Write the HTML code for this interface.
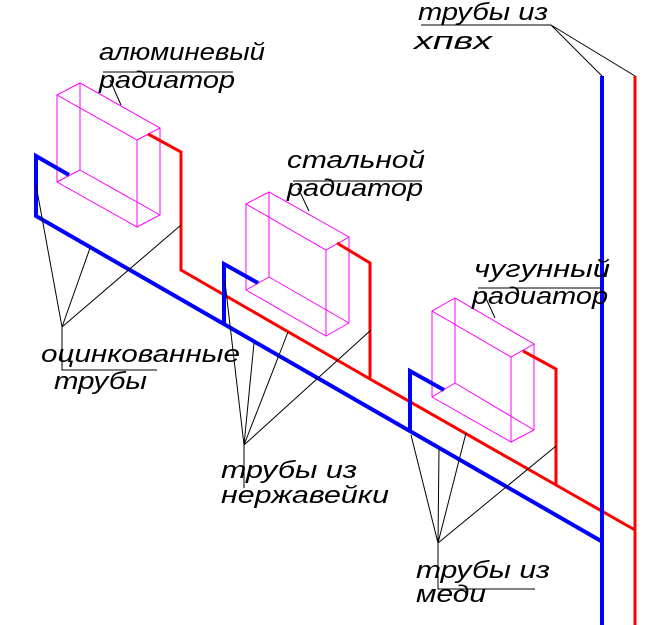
<!DOCTYPE html>
<html><head><meta charset="utf-8"><style>html,body{margin:0;padding:0;background:#fff}svg{display:block}
text{font-family:"Liberation Sans","DejaVu Sans",sans-serif;font-style:italic;font-size:24px;fill:#000}</style></head>
<body>
<svg width="669" height="625" viewBox="0 0 669 625" xmlns="http://www.w3.org/2000/svg">
<g fill="none" stroke="#f0f" stroke-width="1">
<path d="M80,83 L57,95 L137,140 L160,128 Z M57,95 V182 L137,227 V140 M160,128 V215 L137,227 M80,83 V170 L57,182 M80,170 L160,215"/>
<path d="M269,192 L246,204 L326,250 L349,237 Z M246,204 V290 L326,336 V250 M349,237 V323 L326,336 M269,192 V277 L246,290 M269,277 L349,323"/>
<path d="M455,298 L432,311 L511,357 L534,344 Z M432,311 V397 L511,442 V357 M534,344 V430 L511,442 M455,298 V383 L432,397 M455,383 L534,430"/>
</g>
<g fill="none" stroke="#f00" stroke-width="3">
<path d="M148,134 L181,152 V270 L370,379"/>
<path d="M337,243 L370,263 V379 L556,485 L635,530"/>
<path d="M523,351 L556,369 V485"/>
<path d="M635,76 V625"/>
</g>
<g fill="none" stroke="#00f" stroke-width="4">
<path d="M69,175 L36,156 V216 L601,541"/>
<path d="M258,283 L224,264 V324"/>
<path d="M444,390 L410,371 V432"/>
<path d="M602,76 V625"/>
</g>
<g fill="none" stroke="#000" stroke-width="1">
<path d="M421,25 H551 L602,76 M551,25 L635,76"/>
<path d="M103,72 H233 M110,80 L121,105"/>
<path d="M293,181 H422 M298,188 L309,211"/>
<path d="M478,288 H600 M484,294 L495,318"/>
<path d="M36,185 L62,327 L90,248 M62,327 L181,225 M62,327 V370 H157"/>
<path d="M225,282 L244,445 L254,343 M244,445 L288,332 M244,445 L371,330 M244,445 V488"/>
<path d="M411,435 L438,543 L439,448 M438,543 L466,433 M438,543 L556,446 M438,543 V589 H535"/>
</g>
<text x="418" y="20" textLength="130" lengthAdjust="spacingAndGlyphs">трубы из</text>
<text x="414" y="49" textLength="78" lengthAdjust="spacingAndGlyphs">хпвх</text>
<text x="99" y="60" textLength="166" lengthAdjust="spacingAndGlyphs">алюминевый</text>
<text x="99" y="88" textLength="136" lengthAdjust="spacingAndGlyphs">радиатор</text>
<text x="287" y="168" textLength="138" lengthAdjust="spacingAndGlyphs">стальной</text>
<text x="287" y="196" textLength="136" lengthAdjust="spacingAndGlyphs">радиатор</text>
<text x="474" y="277" textLength="136" lengthAdjust="spacingAndGlyphs">чугунный</text>
<text x="472" y="304" textLength="136" lengthAdjust="spacingAndGlyphs">радиатор</text>
<text x="41" y="362" textLength="199" lengthAdjust="spacingAndGlyphs">оцинкованные</text>
<text x="54" y="389" textLength="93" lengthAdjust="spacingAndGlyphs">трубы</text>
<text x="221" y="478" textLength="136" lengthAdjust="spacingAndGlyphs">трубы из</text>
<text x="221" y="503" textLength="168" lengthAdjust="spacingAndGlyphs">нержавейки</text>
<text x="416" y="578" textLength="134" lengthAdjust="spacingAndGlyphs">трубы из</text>
<text x="416" y="602" textLength="70" lengthAdjust="spacingAndGlyphs">меди</text>
</svg>
</body></html>
